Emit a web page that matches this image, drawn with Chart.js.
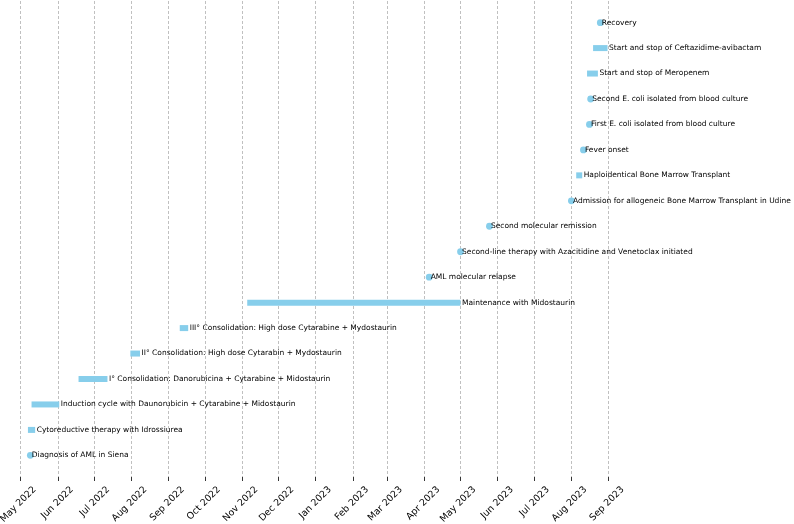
<!DOCTYPE html>
<html>
<head>
<meta charset="utf-8">
<script src="https://cdn.jsdelivr.net/npm/chart.js@4"></script>
<style>
  html, body { margin: 0; padding: 0; background: #fff; }
  canvas { display: block; }
</style>
</head>
<body>
<canvas id="c" width="794" height="524"></canvas>
<script>
// ---- Data ----
const events = [
  'Diagnosis of AML in Siena',
  'Cytoreductive therapy with Idrossiurea',
  'Induction cycle with Daunorubicin + Cytarabine + Midostaurin',
  'I° Consolidation: Danorubicina + Cytarabine + Midostaurin',
  'II° Consolidation: High dose Cytarabin + Mydostaurin',
  'III° Consolidation: High dose Cytarabine + Mydostaurin',
  'Maintenance with Midostaurin',
  'AML molecular relapse',
  'Second-line therapy with Azacitidine and Venetoclax initiated',
  'Second molecular remission',
  'Admission for allogeneic Bone Marrow Transplant in Udine',
  'Haploidentical Bone Marrow Transplant',
  'Fever onset',
  'First E. coli isolated from blood culture',
  'Second E. coli isolated from blood culture',
  'Start and stop of Meropenem',
  'Start and stop of Ceftazidime-avibactam',
  'Recovery'
];
const starts = [
  '2022-05-09', '2022-05-07', '2022-05-10', '2022-06-18', '2022-07-31', '2022-09-10',
  '2022-11-05', '2023-04-05', '2023-05-01', '2023-05-25', '2023-08-01', '2023-08-05',
  '2023-08-11', '2023-08-16', '2023-08-17', '2023-08-14', '2023-08-19', '2023-08-25'
];
const ends = [
  '2022-05-09', '2022-05-13', '2022-06-02', '2022-07-12', '2022-08-08', '2022-09-17',
  '2023-05-01', '2023-04-05', '2023-05-01', '2023-05-25', '2023-08-01', '2023-08-10',
  '2023-08-11', '2023-08-16', '2023-08-17', '2023-08-23', '2023-08-31', '2023-08-25'
];
const tickDates = [
  '2022-05-01', '2022-06-01', '2022-07-01', '2022-08-01', '2022-09-01', '2022-10-01',
  '2022-11-01', '2022-12-01', '2023-01-01', '2023-02-01', '2023-03-01', '2023-04-01',
  '2023-05-01', '2023-06-01', '2023-07-01', '2023-08-01', '2023-09-01'
];
const tickLabels = [
  'May 2022', 'Jun 2022', 'Jul 2022', 'Aug 2022', 'Sep 2022', 'Oct 2022',
  'Nov 2022', 'Dec 2022', 'Jan 2023', 'Feb 2023', 'Mar 2023', 'Apr 2023',
  'May 2023', 'Jun 2023', 'Jul 2023', 'Aug 2023', 'Sep 2023'
];

// ---- Helpers ----
function dayOf(s) {
  const p = s.split('-').map(Number);
  return (Date.UTC(p[0], p[1] - 1, p[2]) - Date.UTC(2022, 4, 1)) / 86400000;
}
const COLOR = '#87CEEB';
const PX_PER_DAY = 1.205;
const X_MIN = -20.7 / PX_PER_DAY;
const X_MAX = X_MIN + 794 / PX_PER_DAY;

const datasets = events.map((name, i) => {
  const s = dayOf(starts[i]);
  const e = dayOf(ends[i]);
  const dot = s === e;
  return {
    label: name,
    data: dot ? [{ x: s, y: i }] : [{ x: s, y: i }, { x: e, y: i }],
    showLine: !dot,
    borderColor: COLOR,
    backgroundColor: COLOR,
    borderWidth: 6,
    borderCapStyle: 'butt',
    pointRadius: dot ? 3.4 : 0,
    pointHoverRadius: dot ? 3.4 : 0,
    pointBorderWidth: 0,
    pointBackgroundColor: COLOR
  };
});

const labelPlugin = {
  id: 'eventLabels',
  afterDatasetsDraw(chart) {
    const { ctx } = chart;
    const xs = chart.scales.x, ys = chart.scales.y;
    ctx.save();
    ctx.font = '7.5px "DejaVu Sans"';
    ctx.fillStyle = '#000';
    ctx.textAlign = 'left';
    ctx.textBaseline = 'middle';
    events.forEach((t, i) => {
      ctx.fillText(t, xs.getPixelForValue(dayOf(ends[i])) + 1.5, ys.getPixelForValue(i));
    });
    ctx.restore();
  }
};

new Chart(document.getElementById('c'), {
  type: 'scatter',
  data: { datasets },
  options: {
    responsive: false,
    animation: false,
    devicePixelRatio: 1,
    layout: { autoPadding: false, padding: { top: 1, left: 0, right: 0, bottom: 0 } },
    plugins: { legend: { display: false }, tooltip: { enabled: false } },
    scales: {
      x: {
        type: 'linear',
        min: X_MIN,
        max: X_MAX,
        afterBuildTicks(scale) {
          scale.ticks = tickDates.map(d => ({ value: dayOf(d) }));
        },
        afterFit(scale) {
          scale.height = 47;
          scale.paddingLeft = 0;
          scale.paddingRight = 0;
        },
        ticks: {
          autoSkip: false,
          minRotation: 45,
          maxRotation: 45,
          padding: 3,
          labelOffset: 14,
          color: '#000',
          font: { family: 'DejaVu Sans', size: 9.4 },
          callback: (v, idx) => tickLabels[idx]
        },
        grid: {
          color: '#b0b0b0',
          lineWidth: 0.8,
          drawTicks: true,
          tickLength: 4,
          tickColor: '#000',
          tickWidth: 0.8
        },
        border: { display: false, dash: [3, 2] }
      },
      y: {
        type: 'linear',
        display: false,
        min: -0.85,
        max: 17.85
      }
    }
  },
  plugins: [labelPlugin]
});
</script>
</body>
</html>
